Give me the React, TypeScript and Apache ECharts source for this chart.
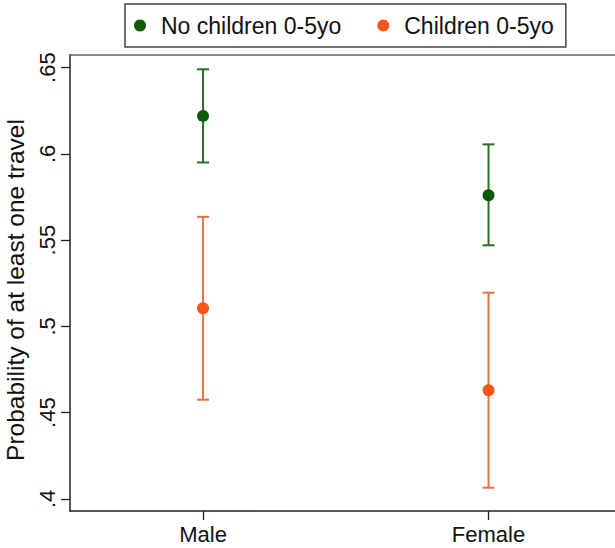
import React, { useEffect, useRef } from "react";
import * as echarts from "echarts";

const categories = ["Male", "Female"];
const categoryPositions = [1, 2];
const seriesNames = ["No children 0-5yo", "Children 0-5yo"];
const noChildrenMean = [0.622, 0.576];
const noChildrenLow = [0.595, 0.547];
const noChildrenHigh = [0.649, 0.6055];
const childrenMean = [0.5105, 0.463];
const childrenLow = [0.4575, 0.4065];
const childrenHigh = [0.5635, 0.5195];
const yTickValues = [0.4, 0.45, 0.5, 0.55, 0.6, 0.65];
const yTickLabels = [".4", ".45", ".5", ".55", ".6", ".65"];

const FONT = "'Liberation Sans', Arial, Helvetica, sans-serif";
const GREEN = "#0a5a0a";
const GREEN_BAR = "#2b6d2b";
const ORANGE = "#fa5512";
const ORANGE_BAR = "#e8733f";

function errorBarSeries(name: string, lows: number[], highs: number[], color: string) {
  return {
    type: "custom",
    name,
    silent: true,
    z: 1,
    data: categoryPositions.map((x, i) => [x, lows[i], highs[i]]),
    encode: { x: 0, y: [1, 2] },
    renderItem: (params: any, api: any) => {
      const x = api.value(0);
      const lo = api.coord([x, api.value(1)]);
      const hi = api.coord([x, api.value(2)]);
      const hw = 6;
      const style = { stroke: color, lineWidth: 2 };
      return {
        type: "group",
        children: [
          { type: "line", shape: { x1: lo[0], y1: lo[1], x2: hi[0], y2: hi[1] }, style },
          { type: "line", shape: { x1: lo[0] - hw, y1: lo[1], x2: lo[0] + hw, y2: lo[1] }, style },
          { type: "line", shape: { x1: hi[0] - hw, y1: hi[1], x2: hi[0] + hw, y2: hi[1] }, style },
        ],
      };
    },
  };
}

export default function App() {
  const ref = useRef<HTMLDivElement>(null);
  useEffect(() => {
    if (!ref.current) return;
    const chart = echarts.init(ref.current, undefined, { renderer: "svg" });
    const xMin = 0.534;
    const xMax = 2.443;
    chart.setOption({
      animation: false,
      backgroundColor: "#ffffff",
      textStyle: { fontFamily: FONT },
      legend: {
        data: seriesNames,
        left: 125,
        top: 4,
        padding: [10, 12, 10, 9],
        borderColor: "#444",
        borderWidth: 1.5,
        itemWidth: 12,
        itemHeight: 12,
        itemGap: 36,
        icon: "circle",
        textStyle: { fontSize: 23, color: "#111", fontFamily: FONT, padding: [0, 0, 0, 10] },
      },
      grid: { left: 70, right: 0, top: 55, bottom: 37, containLabel: false, outerBoundsMode: "none" },
      xAxis: [
        {
          type: "value",
          min: xMin,
          max: xMax,
          splitLine: { show: false },
          axisLine: { show: true, lineStyle: { color: "#222", width: 1.5 } },
          axisTick: { show: true, length: 9, customValues: categoryPositions, lineStyle: { color: "#222", width: 1.3 } },
          axisLabel: {
            customValues: categoryPositions,
            margin: 12,
            fontSize: 22,
            color: "#111",
            fontFamily: FONT,
            formatter: (v: number) => {
              const idx = categoryPositions.indexOf(Math.round(v));
              return idx >= 0 ? categories[idx] : "";
            },
          },
        },
        {
          type: "value",
          position: "top",
          min: xMin,
          max: xMax,
          splitLine: { show: false },
          axisLine: { show: true, lineStyle: { color: "#666", width: 1.5 } },
          axisTick: { show: false },
          axisLabel: { show: false },
        },
      ],
      yAxis: {
        type: "value",
        min: 0.393,
        max: 0.6573,
        splitLine: { show: false },
        axisLine: { show: true, lineStyle: { color: "#222", width: 1.5 } },
        axisTick: { show: true, length: 9, customValues: yTickValues, lineStyle: { color: "#222", width: 1.3 } },
        axisLabel: {
          customValues: yTickValues,
          rotate: 90,
          margin: 12,
          fontSize: 22,
          color: "#111",
          fontFamily: FONT,
          formatter: (v: number) => {
            const idx = yTickValues.findIndex((t) => Math.abs(t - v) < 1e-6);
            return idx >= 0 ? yTickLabels[idx] : "";
          },
        },
        name: "Probability of at least one travel",
        nameLocation: "middle",
        nameRotate: 90,
        nameGap: 35,
        nameTextStyle: { fontSize: 24.5, color: "#111", fontFamily: FONT, padding: [0, 14, 0, 0] },
      },
      series: [
        errorBarSeries("nc-err", noChildrenLow, noChildrenHigh, GREEN_BAR),
        errorBarSeries("c-err", childrenLow, childrenHigh, ORANGE_BAR),
        {
          type: "scatter",
          name: seriesNames[0],
          symbol: "circle",
          symbolSize: 12,
          z: 3,
          itemStyle: { color: GREEN, opacity: 1 },
          data: categoryPositions.map((x, i) => [x, noChildrenMean[i]]),
        },
        {
          type: "scatter",
          name: seriesNames[1],
          symbol: "circle",
          symbolSize: 12,
          z: 3,
          itemStyle: { color: ORANGE, opacity: 1 },
          data: categoryPositions.map((x, i) => [x, childrenMean[i]]),
        },
      ],
    });
    return () => chart.dispose();
  }, []);
  return (
    <div
      ref={ref}
      style={{ position: "fixed", left: 0, top: 0, width: 615, height: 548, background: "#fff" }}
    />
  );
}
